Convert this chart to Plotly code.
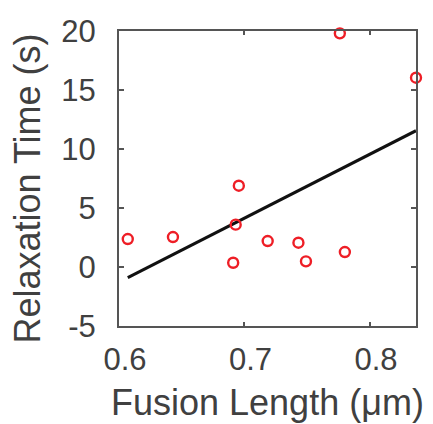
import plotly.graph_objects as go

# Data
fusion_length = [0.607, 0.643, 0.691, 0.693, 0.6955, 0.7185, 0.743, 0.749, 0.776, 0.780, 0.8367]
relaxation_time = [2.37, 2.54, 0.36, 3.59, 6.89, 2.20, 2.06, 0.48, 19.8, 1.27, 16.04]
fit_x = [0.607, 0.8367]
fit_y = [-0.9, 11.55]

x_ticks = [0.6, 0.7, 0.8]
x_tick_labels = ["0.6", "0.7", "0.8"]
y_ticks = [-5, 0, 5, 10, 15, 20]
y_tick_labels = ["-5", "0", "5", "10", "15", "20"]
x_title = "Fusion Length (μm)"
y_title = "Relaxation Time (s)"

font_family = "Liberation Sans, Arial, sans-serif"
text_color = "#404040"
axis_color = "#555555"
red = "rgb(238,30,38)"

fig = go.Figure()
fig.add_trace(go.Scatter(
    x=fit_x, y=fit_y, mode="lines",
    line=dict(color="#111111", width=3),
    showlegend=False, hoverinfo="skip",
))
fig.add_trace(go.Scatter(
    x=fusion_length, y=relaxation_time, mode="markers",
    marker=dict(symbol="circle-open", size=10, color=red,
                line=dict(width=2.4, color=red)),
    showlegend=False, cliponaxis=False,
))

# The page body has an 8px margin, so the figure is sized to fit the 433x424 window
fig.update_layout(
    width=425, height=416,
    margin=dict(l=111, r=17, t=23, b=98),
    paper_bgcolor="white", plot_bgcolor="white",
    font=dict(family=font_family, color=text_color),
    xaxis=dict(
        range=[0.6, 0.8367], tickvals=x_ticks, ticktext=x_tick_labels,
        showgrid=False, zeroline=False, automargin=False,
        showline=True, linecolor=axis_color, linewidth=2, mirror="ticks",
        ticks="inside", ticklen=4, tickwidth=1.5, tickcolor=axis_color,
        tickfont=dict(size=31, color=text_color, family=font_family),
        ticklabelstandoff=5, ticklabelshift=6,
    ),
    yaxis=dict(
        range=[-5, 20], tickvals=y_ticks, ticktext=y_tick_labels,
        showgrid=False, zeroline=False, automargin=False,
        showline=True, linecolor=axis_color, linewidth=2, mirror="ticks",
        ticks="inside", ticklen=5, tickwidth=1.5, tickcolor=axis_color,
        tickfont=dict(size=31, color=text_color, family=font_family),
        ticklabelstandoff=15,
    ),
    annotations=[
        dict(
            text=y_title, textangle=-90,
            xref="paper", yref="paper", x=0, y=0.5,
            xanchor="center", yanchor="middle", xshift=-92, yshift=-10,
            showarrow=False,
            font=dict(size=36, color=text_color, family=font_family),
        ),
        dict(
            text=x_title,
            xref="paper", yref="paper", x=0.5, y=0,
            xanchor="center", yanchor="middle", yshift=-76,
            showarrow=False,
            font=dict(size=36, color=text_color, family=font_family),
        ),
    ],
)

fig.write_html("out.html")
